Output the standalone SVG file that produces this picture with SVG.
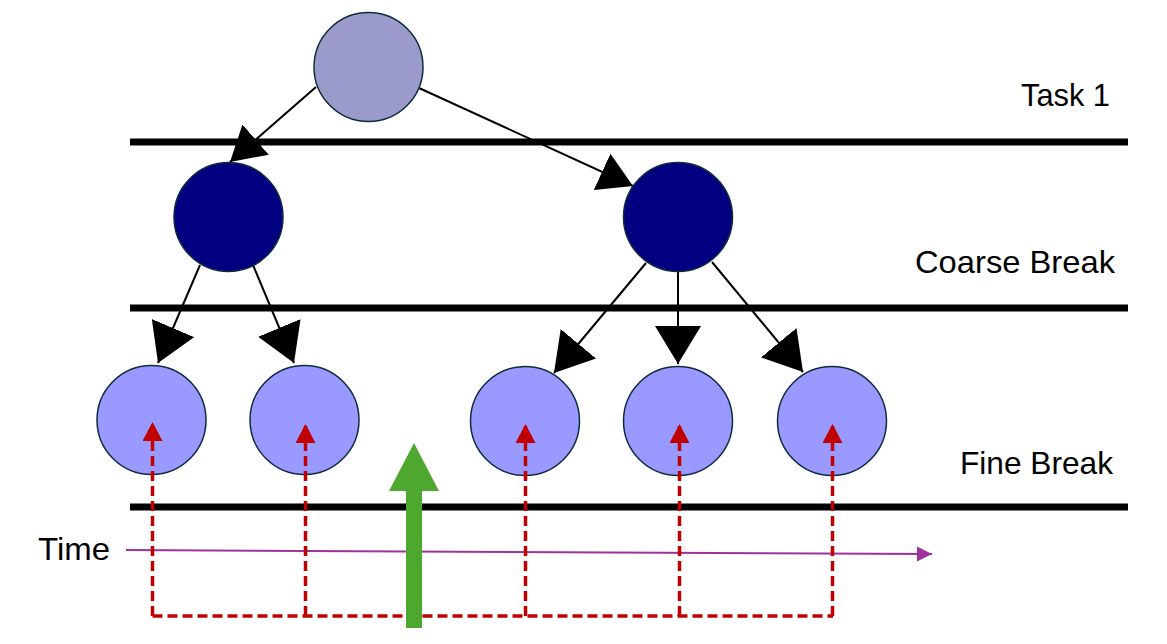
<svg xmlns="http://www.w3.org/2000/svg" width="1167" height="644" viewBox="0 0 1167 644">
  <style>
    .node { stroke: #0e2c3c; stroke-width: 1.5; }
    .root { fill: #9b9bcb; }
    .coarse { fill: #000080; }
    .fine { fill: #9999ff; }
    .band { stroke: #000; stroke-width: 7; }
    .edge { stroke: #000; stroke-width: 2; fill: none; }
    .trace { stroke: #c00000; stroke-width: 3.5; fill: none; stroke-dasharray: 10 5; }
    .label { font-family: "Liberation Sans", Arial, sans-serif; font-size: 32px; fill: #000; }
  </style>
  <defs>
    <marker id="head" markerUnits="userSpaceOnUse" markerWidth="40" markerHeight="46" refX="38" refY="23" orient="auto">
      <path d="M0,0 L38,23 L0,46 Z" fill="#000"/>
    </marker>
    <marker id="headS" markerUnits="userSpaceOnUse" markerWidth="36" markerHeight="42" refX="34" refY="21" orient="auto">
      <path d="M0,1 L34,21 L0,41 Z" fill="#000"/>
    </marker>
    <marker id="redHead" markerUnits="userSpaceOnUse" markerWidth="20" markerHeight="20" refX="19" refY="10" orient="auto">
      <path d="M0,0 L19,10 L0,20 Z" fill="#c00000"/>
    </marker>
    <marker id="timeHead" markerUnits="userSpaceOnUse" markerWidth="16" markerHeight="16" refX="15" refY="7.5" orient="auto">
      <path d="M0,0 L15,7.5 L0,15 Z" fill="#a0309a"/>
    </marker>
  </defs>

  <!-- level separators -->
  <g id="bands">
    <line class="band" x1="130" y1="142" x2="1128" y2="142"/>
    <line class="band" x1="130" y1="308" x2="1128" y2="308"/>
    <line class="band" x1="130" y1="507" x2="1128" y2="507"/>
  </g>

  <!-- level labels -->
  <g id="labels">
    <text class="label" x="1021" y="106" textLength="89" lengthAdjust="spacingAndGlyphs">Task 1</text>
    <text class="label" x="915" y="273" textLength="200" lengthAdjust="spacingAndGlyphs">Coarse Break</text>
    <text class="label" x="960" y="474" textLength="153" lengthAdjust="spacingAndGlyphs">Fine Break</text>
    <text class="label" x="38" y="560" textLength="72" lengthAdjust="spacingAndGlyphs">Time</text>
  </g>

  <!-- tree edges -->
  <g id="connectors">
    <line class="edge" x1="316" y1="87" x2="230" y2="162" marker-end="url(#headS)"/>
    <line class="edge" x1="419" y1="88" x2="633" y2="186" marker-end="url(#headS)"/>
    <line class="edge" x1="200" y1="265" x2="158" y2="363" marker-end="url(#head)"/>
    <line class="edge" x1="253" y1="265" x2="294" y2="363" marker-end="url(#head)"/>
    <line class="edge" x1="646" y1="263" x2="554" y2="373" marker-end="url(#head)"/>
    <line class="edge" x1="678" y1="272" x2="678" y2="364" marker-end="url(#head)"/>
    <line class="edge" x1="712" y1="262" x2="803" y2="372" marker-end="url(#head)"/>
  </g>

  <!-- nodes -->
  <g id="task1"><circle class="node root" cx="368.5" cy="67" r="54.5"/></g>
  <g id="coarse-left"><circle class="node coarse" cx="228.5" cy="217" r="54.5"/></g>
  <g id="coarse-right"><circle class="node coarse" cx="678" cy="217" r="54.5"/></g>
  <g id="fine-1"><circle class="node fine" cx="151.5" cy="420" r="54.5"/></g>
  <g id="fine-2"><circle class="node fine" cx="304.5" cy="420" r="54.5"/></g>
  <g id="fine-3"><circle class="node fine" cx="525" cy="421" r="54.5"/></g>
  <g id="fine-4"><circle class="node fine" cx="678" cy="421" r="54.5"/></g>
  <g id="fine-5"><circle class="node fine" cx="832" cy="421" r="54.5"/></g>

  <!-- time axis and dashed trace back to each fine break -->
  <g id="trace">
    <line x1="126" y1="550" x2="932" y2="554" stroke="#a0309a" stroke-width="2" marker-end="url(#timeHead)"/>
    <path class="trace" d="M152.5,616 L833,616"/>
    <line class="trace" x1="152.5" y1="616" x2="152.5" y2="422" marker-end="url(#redHead)"/>
    <line class="trace" x1="305.5" y1="616" x2="305.5" y2="424" marker-end="url(#redHead)"/>
    <line class="trace" x1="525.5" y1="616" x2="525.5" y2="424" marker-end="url(#redHead)"/>
    <line class="trace" x1="679.5" y1="616" x2="679.5" y2="424" marker-end="url(#redHead)"/>
    <line class="trace" x1="832.5" y1="616" x2="832.5" y2="424" marker-end="url(#redHead)"/>
  </g>

  <!-- upward block arrow -->
  <g id="resume-arrow">
    <path d="M406,628 L406,491 L389,491 L414,443 L439,491 L422,491 L422,628 Z" fill="#4ea72e"/>
  </g>
</svg>
